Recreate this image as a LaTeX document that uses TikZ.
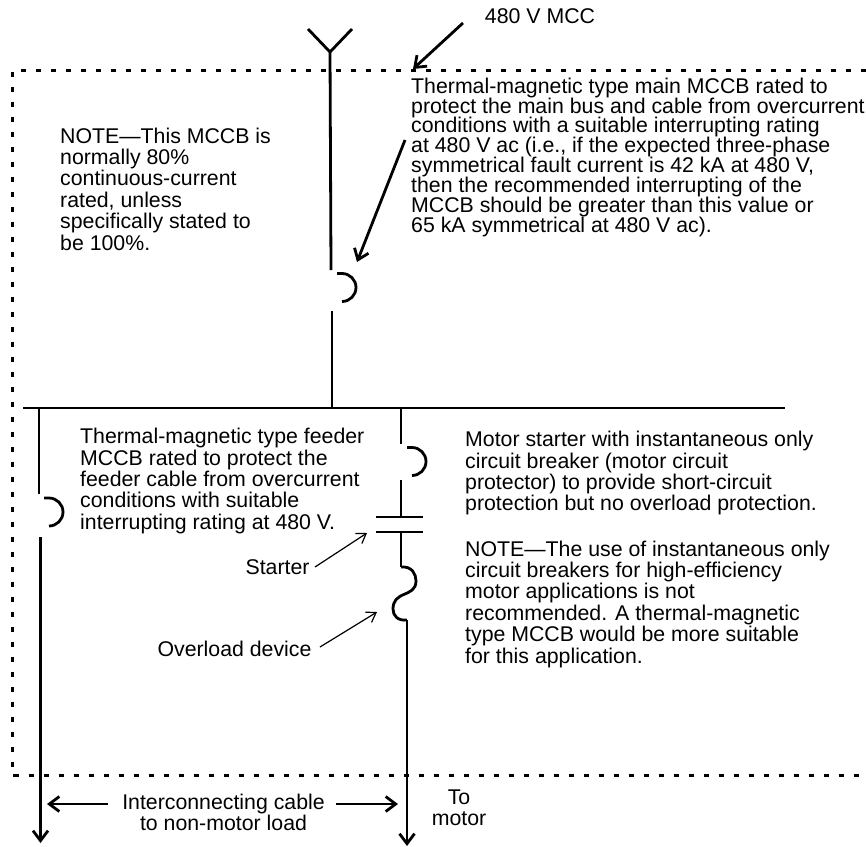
\documentclass[tikz,border=0pt]{standalone}
\usepackage{fontspec}
\setmainfont{Liberation Sans}
\usetikzlibrary{arrows.meta}
\tikzset{
  x=1pt,y=-1pt,
  wire/.style={line width=2.8pt},
  dots/.style={line width=3pt,dash pattern=on 5pt off 10pt},
  heavy/.style={line width=2.8pt,-{Straight Barb[length=10pt,width=15pt,line width=2.8pt]}},
  thin arrow/.style={line width=1.2pt,-{Straight Barb[length=9pt,width=12pt,line width=1.2pt]}},
  txt/.style={inner sep=0pt,align=left,anchor=north west,font=\fontsize{21.3}{21.4}\selectfont},
  tight/.style={font=\fontsize{21.3}{19.9}\selectfont},
  ctr/.style={inner sep=0pt,align=center,anchor=north,font=\fontsize{21.3}{21.5}\selectfont},
}
\begin{document}
\begin{tikzpicture}
\useasboundingbox (0,0) rectangle (866,846);
% dotted enclosure
\coordinate (tl) at (12,70.5);
\coordinate (tr) at (866,70.5);
\coordinate (bl) at (12,775);
\coordinate (br) at (866,775);
\draw[dots] (tr) -- (tl) -- (bl) -- (br);
% main wire
\coordinate (yl) at (308,29);
\coordinate (yr) at (352,29);
\coordinate (yc) at (330,52);
\coordinate (m1) at (331,270);
\coordinate (m2) at (332,311);
\coordinate (bus1) at (332,408);
\coordinate (busL) at (23,408);
\coordinate (busR) at (785,408);
\draw[wire] (yl) -- (yc) -- (yr);
\draw[wire] (yc) -- (m1);
\draw[wire] (m2) -- (bus1);
\draw[wire] (busL) -- (busR);
\draw[wire] (337,273.5) -- (342,273.5) arc[start angle=-90,end angle=90,radius=14];
% left feeder
\coordinate (lf0) at (39,408);
\coordinate (lf1) at (39,494);
\coordinate (lf2) at (40.5,537);
\coordinate (lf3) at (40.5,843);
\draw[wire] (lf0) -- (lf1);
\draw[wire] (44,498) -- (49,498) arc[start angle=-90,end angle=90,radius=14];
\draw[heavy] (lf2) -- (lf3);
% right feeder
\coordinate (rf0) at (401,408);
\coordinate (rf1) at (401,444);
\coordinate (rf2) at (401,480);
\coordinate (rf3) at (401,517);
\coordinate (rf4) at (401,532);
\coordinate (rf5) at (407,620);
\coordinate (rf6) at (407,846);
\draw[wire] (rf0) -- (rf1);
\draw[wire] (407,447.5) -- (412,447.5) arc[start angle=-90,end angle=90,radius=14];
\draw[wire] (rf2) -- (rf3);
\draw[wire] (376,517) -- (423,517);
\draw[wire] (376,532) -- (423,532);
\draw[wire] (rf4) -- (401,567);
\draw[wire] (401,567) .. controls (412,566) and (416,574) .. (416,581) .. controls (416,590) and (409,592) .. (405,594)
   .. controls (397,597) and (393,601) .. (393,609) .. controls (393,616) and (398,621) .. (407,620);
\draw[heavy] (rf5) -- (rf6);
% labels
\node[ctr] (mcc) at (540,8) {480 V MCC};
\coordinate (mccA) at (463,23);
\coordinate (mccB) at (413,69);
\draw[heavy] (mccA) -- (mccB);
\node[txt,tight] (main) at (411,77.5) {Thermal-magnetic type main MCCB rated to\\protect the main bus and cable from overcurrent\\conditions with a suitable interrupting rating\\at 480 V ac (i.e., if the expected three-phase\\symmetrical fault current is 42 kA at 480 V,\\then the recommended interrupting of the\\MCCB should be greater than this value or\\65 kA symmetrical at 480 V ac).};
\coordinate (mainA) at (405,140);
\coordinate (mainB) at (357,262);
\draw[heavy] (mainA) -- (mainB);
\node[txt] (note) at (60,127.5) {NOTE—This MCCB is\\normally 80\%\\continuous-current\\rated, unless\\specifically stated to\\be 100\%.};
\node[txt] (feeder) at (80,428) {Thermal-magnetic type feeder\\MCCB rated to protect the\\feeder cable from overcurrent\\conditions with suitable\\interrupting rating at 480 V.};
\node[txt] (motor) at (465,431) {Motor starter with instantaneous only\\circuit breaker (motor circuit\\protector) to provide short-circuit\\protection but no overload protection.};
\node[txt] (note2) at (465,540.5) {NOTE—The use of instantaneous only\\circuit breakers for high-efficiency\\motor applications is not\\recommended. A thermal-magnetic\\type MCCB would be more suitable\\for this application.};
\node[ctr] (starter) at (277.5,559.5) {Starter};
\coordinate (stA) at (315,567);
\coordinate (stB) at (367,533);
\draw[thin arrow] (stA) -- (stB);
\node[ctr] (ovl) at (234.5,640.5) {Overload device};
\coordinate (ovA) at (320,647);
\coordinate (ovB) at (377,612);
\draw[thin arrow] (ovA) -- (ovB);
\node[ctr] (ic) at (223.5,793.5) {Interconnecting cable\\to non-motor load};
\coordinate (icL) at (108,804);
\coordinate (icLe) at (47,804);
\coordinate (icR) at (336,804);
\coordinate (icRe) at (398,804);
\draw[heavy] (icL) -- (icLe);
\draw[heavy] (icR) -- (icRe);
\node[ctr] (tm) at (459,789.5) {To\\motor};
\end{tikzpicture}
\end{document}
